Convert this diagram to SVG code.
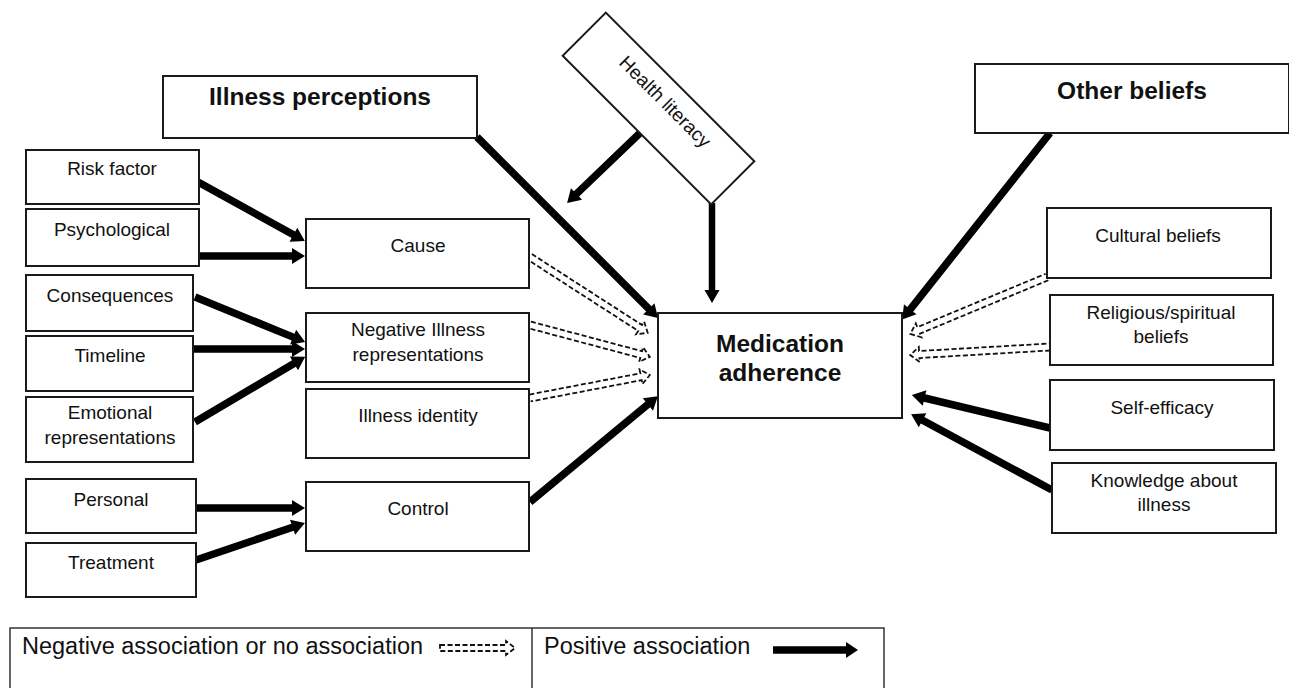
<svg xmlns="http://www.w3.org/2000/svg" width="1289" height="688" viewBox="0 0 1289 688">
<style>
.box{fill:#fff;stroke:#1a1a1a;stroke-width:2}
.t{font-family:"Liberation Sans",Arial,sans-serif;font-size:19px;fill:#111;text-anchor:middle}
.b{font-weight:bold;font-size:24.5px}
.solid{fill:#000;stroke:none}
.hollow{fill:none;stroke:#111;stroke-width:1.8;stroke-dasharray:5 2.5}
.leg{font-family:"Liberation Sans",Arial,sans-serif;font-size:23.5px;fill:#111}
</style>
<rect width="1289" height="688" fill="#fff"/>

<g id="connectors">
  <g transform="translate(198,182) rotate(28.9)"><polygon class="solid" points="0,-3.75 109,-3.75 109,-8 122,0 109,8 109,3.75 0,3.75"/></g>
  <g transform="translate(199,256)"><polygon class="solid" points="0,-3.75 93,-3.75 93,-8 106,0 93,8 93,3.75 0,3.75"/></g>
  <g transform="translate(195,297) rotate(22.25)"><polygon class="solid" points="0,-3.75 106,-3.75 106,-8 119,0 106,8 106,3.75 0,3.75"/></g>
  <g transform="translate(193,349)"><polygon class="solid" points="0,-3.75 99,-3.75 99,-8 112,0 99,8 99,3.75 0,3.75"/></g>
  <g transform="translate(195,422) rotate(-30.6)"><polygon class="solid" points="0,-3.75 115,-3.75 115,-8 128,0 115,8 115,3.75 0,3.75"/></g>
  <g transform="translate(196,508)"><polygon class="solid" points="0,-3.75 96,-3.75 96,-8 109,0 96,8 96,3.75 0,3.75"/></g>
  <g transform="translate(196,560) rotate(-18.75)"><polygon class="solid" points="0,-3.75 102,-3.75 102,-8 115,0 102,8 102,3.75 0,3.75"/></g>
  <g transform="translate(530,502) rotate(-39.6)"><polygon class="solid" points="0,-3.75 153,-3.75 153,-8 166,0 153,8 153,3.75 0,3.75"/></g>
  <g transform="translate(477,137) rotate(45)"><polygon class="solid" points="0,-3.75 243,-3.75 243,-8 256,0 243,8 243,3.75 0,3.75"/></g>
  <g transform="translate(712,203) rotate(90)"><polygon class="solid" points="0,-3.25 87,-3.25 87,-7.5 100,0 87,7.5 87,3.25 0,3.25"/></g>
  <g transform="translate(640,133) rotate(136.2)"><polygon class="solid" points="0,-3.75 88,-3.75 88,-8 101,0 88,8 88,3.75 0,3.75"/></g>
  <g transform="translate(1050,133) rotate(128.4)"><polygon class="solid" points="0,-3.75 225,-3.75 225,-8 238,0 225,8 225,3.75 0,3.75"/></g>
  <g transform="translate(1050,428) rotate(-166.55)"><polygon class="solid" points="0,-3.75 129,-3.75 129,-8 142,0 129,8 129,3.75 0,3.75"/></g>
  <g transform="translate(1052,490) rotate(-151.7)"><polygon class="solid" points="0,-3.75 147,-3.75 147,-8 160,0 147,8 147,3.75 0,3.75"/></g>

  <g transform="translate(530,257) rotate(32.8)"><polyline class="hollow" points="0,-3.5 131,-3.5 131,-7.5 140,0 131,7.5 131,3.5 0,3.5"/></g>
  <g transform="translate(530,325) rotate(14.9)"><polyline class="hollow" points="0,-3.5 115,-3.5 115,-7.5 124,0 115,7.5 115,3.5 0,3.5"/></g>
  <g transform="translate(530,398) rotate(-10.85)"><polyline class="hollow" points="0,-3.5 113,-3.5 113,-7.5 122,0 113,7.5 113,3.5 0,3.5"/></g>
  <g transform="translate(1047,277) rotate(157.4)"><polyline class="hollow" points="0,-3.5 139,-3.5 139,-7.5 148,0 139,7.5 139,3.5 0,3.5"/></g>
  <g transform="translate(1050,347) rotate(176.7)"><polyline class="hollow" points="0,-3.5 131,-3.5 131,-7.5 140,0 131,7.5 131,3.5 0,3.5"/></g>
</g>

<g id="illness-perceptions"><rect class="box" x="163" y="76" width="314" height="62"/><text class="t b" x="320" y="105">Illness perceptions</text></g>
<g id="other-beliefs"><rect class="box" x="975" y="64" width="314" height="69"/><text class="t b" x="1132" y="99">Other beliefs</text></g>
<g id="health-literacy"><g transform="translate(658.5,108.5) rotate(45)"><rect class="box" x="-105" y="-30.5" width="210" height="61"/><text class="t" x="0" y="-3" font-size="18">Health literacy</text></g></g>
<g id="medication-adherence"><rect class="box" x="658" y="313" width="244" height="105"/><text class="t b" x="780" y="352">Medication</text><text class="t b" x="780" y="381">adherence</text></g>

<g id="risk-factor"><rect class="box" x="26" y="150" width="173" height="54"/><text class="t" x="112" y="175">Risk factor</text></g>
<g id="psychological"><rect class="box" x="26" y="209" width="173" height="57"/><text class="t" x="112" y="236">Psychological</text></g>
<g id="consequences"><rect class="box" x="26" y="275" width="167" height="56"/><text class="t" x="110" y="302">Consequences</text></g>
<g id="timeline"><rect class="box" x="26" y="336" width="167" height="55"/><text class="t" x="110" y="362">Timeline</text></g>
<g id="emotional"><rect class="box" x="26" y="397" width="167" height="65"/><text class="t" x="110" y="419">Emotional</text><text class="t" x="110" y="444">representations</text></g>
<g id="personal"><rect class="box" x="26" y="479" width="170" height="54"/><text class="t" x="111" y="506">Personal</text></g>
<g id="treatment"><rect class="box" x="26" y="543" width="170" height="54"/><text class="t" x="111" y="569">Treatment</text></g>

<g id="cause"><rect class="box" x="306" y="219" width="223" height="69"/><text class="t" x="418" y="252">Cause</text></g>
<g id="negative-illness"><rect class="box" x="306" y="313" width="223" height="69"/><text class="t" x="418" y="336">Negative Illness</text><text class="t" x="418" y="361">representations</text></g>
<g id="illness-identity"><rect class="box" x="306" y="389" width="223" height="69"/><text class="t" x="418" y="422">Illness identity</text></g>
<g id="control"><rect class="box" x="306" y="482" width="223" height="69"/><text class="t" x="418" y="515">Control</text></g>

<g id="cultural-beliefs"><rect class="box" x="1047" y="208" width="224" height="70"/><text class="t" x="1158" y="242">Cultural beliefs</text></g>
<g id="religious-beliefs"><rect class="box" x="1050" y="295" width="223" height="70"/><text class="t" x="1161" y="319">Religious/spiritual</text><text class="t" x="1161" y="343">beliefs</text></g>
<g id="self-efficacy"><rect class="box" x="1050" y="380" width="224" height="70"/><text class="t" x="1162" y="414">Self-efficacy</text></g>
<g id="knowledge"><rect class="box" x="1052" y="463" width="224" height="70"/><text class="t" x="1164" y="487">Knowledge about</text><text class="t" x="1164" y="511">illness</text></g>

<g id="legend">
  <rect x="10" y="628" width="874" height="80" fill="#fff" stroke="#333" stroke-width="1.5"/>
  <line x1="532" y1="628" x2="532" y2="688" stroke="#333" stroke-width="1.5"/>
  <text class="leg" x="22" y="654">Negative association or no association</text>
  <g transform="translate(440,648)"><polygon class="hollow" points="0,-3 66,-3 66,-7 75,0 66,7 66,3 0,3"/></g>
  <text class="leg" x="544" y="654">Positive association</text>
  <g transform="translate(773,650)"><polygon class="solid" points="0,-3.75 73,-3.75 73,-8 85,0 73,8 73,3.75 0,3.75"/></g>
</g>
</svg>
